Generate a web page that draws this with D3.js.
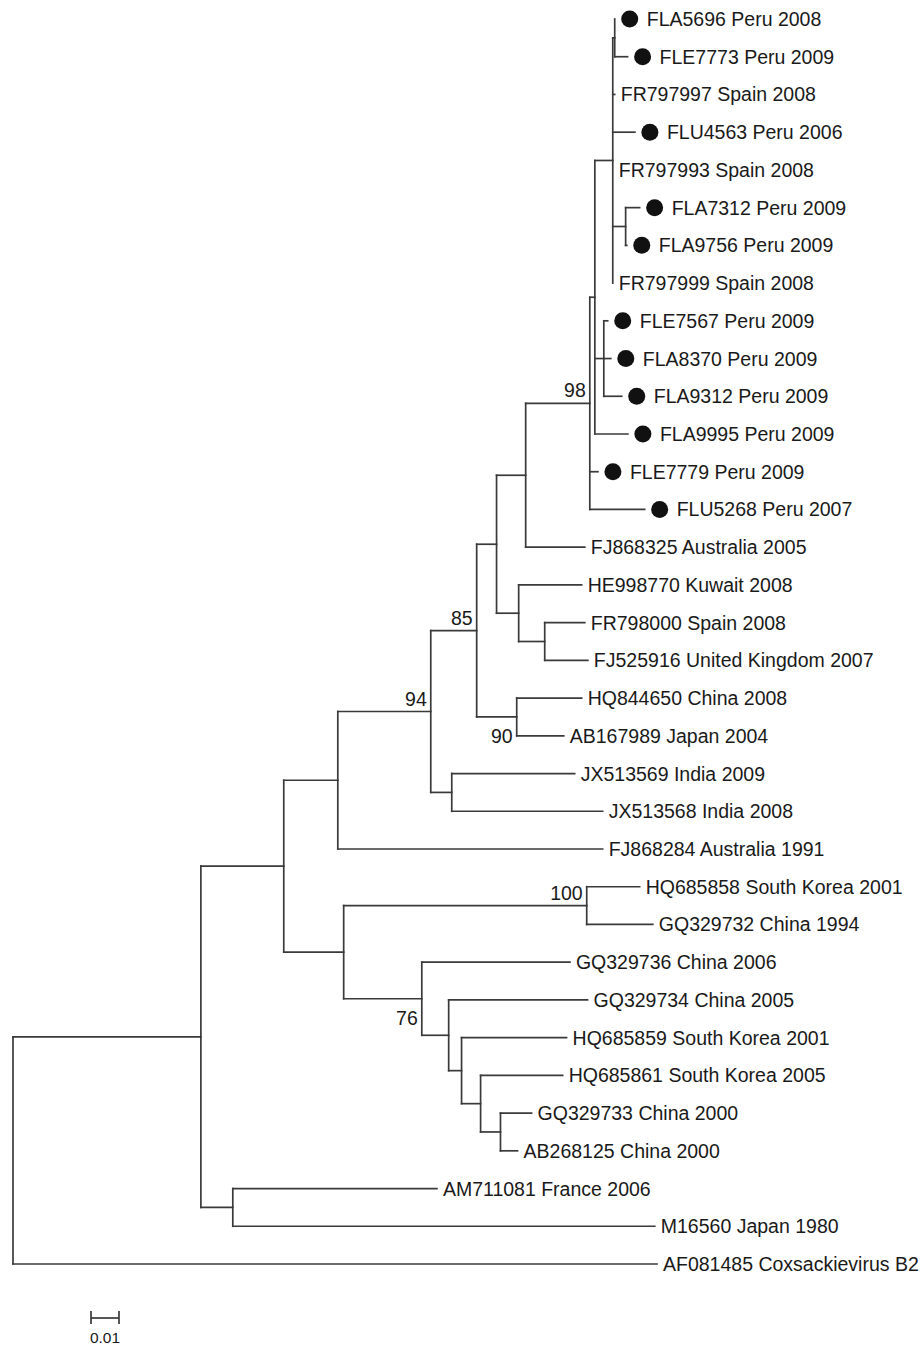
<!DOCTYPE html>
<html>
<head>
<meta charset="utf-8">
<script src="https://cdn.jsdelivr.net/npm/d3@7"></script>
<style>
  body { margin: 0; background: #fff; }
  svg { display: block; font-family: Arial, "Liberation Sans", Helvetica, sans-serif; }
</style>
</head>
<body>
<figure id="tree" style="margin:0"></figure>
<script>
// tree topology with branch lengths (substitutions/site) and bootstrap values
const newick = `
(
 (
  (
   (
    (
     (
      (
       (
        (
         (((FLA5696:0,FLE7773:0.0046):0.0007,FR797997:0.0007,FLU4563:0.0079,FR797993:0,
           (FLA7312:0.0050,FLA9756:0.0004):0.0046,FR797999:0):0.0064,
          (FLE7567:0.0014,FLA8370:0.0025,FLA9312:0.0064):0.0032,
          FLA9995:0.0118):0.0018,
         FLE7779:0.0029,FLU5268:0.0196)98:0.0229,
        FJ868325:0.0211):0.0104,
       (HE998770:0.0225,(FR798000:0.0143,FJ525916:0.0154):0.0093):0.0079):0.0071,
      (HQ844650:0.0232,AB167989:0.0168)90:0.0143)85:0.0164,
     (JX513569:0.0439,JX513568:0.0539):0.0075)94:0.0332,
    FJ868284:0.0946):0.0193,
   ((HQ685858:0.0189,GQ329732:0.0236)100:0.0868,
    (GQ329736:0.0529,(GQ329734:0.0496,(HQ685859:0.0375,(HQ685861:0.0293,
      (GQ329733:0.0111,AB268125:0.0061):0.0071):0.0068):0.0046):0.0096)76:0.0279):0.0214):0.0296,
  (AM711081:0.0729,M16560:0.1507):0.0114):0.0671,
 AF081485:0.2300);`;

// tip labels, top to bottom
const accessions = ["FLA5696", "FLE7773", "FR797997", "FLU4563", "FR797993", "FLA7312", "FLA9756",
  "FR797999", "FLE7567", "FLA8370", "FLA9312", "FLA9995", "FLE7779", "FLU5268", "FJ868325",
  "HE998770", "FR798000", "FJ525916", "HQ844650", "AB167989", "JX513569", "JX513568", "FJ868284",
  "HQ685858", "GQ329732", "GQ329736", "GQ329734", "HQ685859", "HQ685861", "GQ329733", "AB268125",
  "AM711081", "M16560", "AF081485"];
const origins = ["Peru", "Peru", "Spain", "Peru", "Spain", "Peru", "Peru",
  "Spain", "Peru", "Peru", "Peru", "Peru", "Peru", "Peru", "Australia",
  "Kuwait", "Spain", "United Kingdom", "China", "Japan", "India", "India", "Australia",
  "South Korea", "China", "China", "China", "South Korea", "South Korea", "China", "China",
  "France", "Japan", "Coxsackievirus B2"];
const years = ["2008", "2009", "2008", "2006", "2008", "2009", "2009",
  "2008", "2009", "2009", "2009", "2009", "2009", "2007", "2005",
  "2008", "2008", "2007", "2008", "2004", "2009", "2008", "1991",
  "2001", "1994", "2006", "2005", "2001", "2005", "2000", "2000",
  "2006", "1980", ""];
// isolates from this study (filled circles)
const studyIsolates = ["FLA5696", "FLE7773", "FLU4563", "FLA7312", "FLA9756", "FLE7567", "FLA8370",
  "FLA9312", "FLA9995", "FLE7779", "FLU5268"];
// bootstrap values written under the branch instead of above it
const supportBelow = ["90", "76"];
const scaleBarLength = 0.01;

const width = 922, height = 1348;

function parseNewick(s) {
  s = s.replace(/\s+/g, "");
  let i = 0;
  function node() {
    const n = { children: [], name: "", length: 0 };
    if (s[i] === "(") {
      i++;
      n.children.push(node());
      while (s[i] === ",") { i++; n.children.push(node()); }
      i++; // closing paren
    }
    while (i < s.length && !",():;".includes(s[i])) n.name += s[i++];
    if (s[i] === ":") {
      i++;
      let num = "";
      while (i < s.length && !",();".includes(s[i])) num += s[i++];
      n.length = +num;
    }
    return n;
  }
  return node();
}

const root = d3.hierarchy(parseNewick(newick), d => d.children.length ? d.children : null);
root.eachBefore(d => { d.dist = d.parent ? d.parent.dist + d.data.length : 0; });

const leaves = root.leaves();
const x = d3.scaleLinear().domain([0, 0.23]).range([13, 657]);
const y = d3.scaleLinear().domain([0, leaves.length - 1]).range([19, 1264]);

leaves.forEach((d, i) => { d.row = i; });
root.eachAfter(d => {
  if (d.children) d.row = (d.children[0].row + d.children[d.children.length - 1].row) / 2;
});

const svg = d3.select("figure#tree")
  .append("svg")
  .attr("width", width)
  .attr("height", height);

const lineColor = "#3a3a3a";
const g = svg.append("g")
  .attr("stroke", lineColor)
  .attr("stroke-width", 1.7)
  .attr("stroke-linecap", "square")
  .attr("fill", "none");

// horizontal branches
g.selectAll("line.branch")
  .data(root.descendants().filter(d => d.parent && d.data.length > 0))
  .enter()
  .append("line")
  .attr("class", "branch")
  .attr("x1", d => x(d.parent.dist))
  .attr("x2", d => x(d.dist))
  .attr("y1", d => y(d.row))
  .attr("y2", d => y(d.row));

// vertical connectors
g.selectAll("line.connector")
  .data(root.descendants().filter(d => d.children))
  .enter()
  .append("line")
  .attr("class", "connector")
  .attr("x1", d => x(d.dist))
  .attr("x2", d => x(d.dist))
  .attr("y1", d => y(d.children[0].row))
  .attr("y2", d => y(d.children[d.children.length - 1].row));

const fontSize = 19.5;

// tip dots and labels
const tips = svg.append("g")
  .selectAll("g")
  .data(leaves)
  .enter()
  .append("g")
  .attr("transform", d => "translate(" + x(d.dist) + "," + y(d.row) + ")");

tips.filter(d => studyIsolates.includes(d.data.name))
  .append("circle")
  .attr("cx", 15)
  .attr("r", 8.5)
  .attr("fill", "#111");

tips.append("text")
  .attr("x", d => studyIsolates.includes(d.data.name) ? 32 : 6)
  .attr("dy", "0.36em")
  .attr("font-size", fontSize)
  .attr("fill", "#1a1a1a")
  .text(d => {
    const k = accessions.indexOf(d.data.name);
    return [accessions[k], origins[k], years[k]].filter(t => t).join(" ");
  });

// bootstrap support
svg.append("g")
  .selectAll("text")
  .data(root.descendants().filter(d => d.children && d.data.name))
  .enter()
  .append("text")
  .attr("x", d => x(d.dist) - 4)
  .attr("y", d => y(d.row) + (supportBelow.includes(d.data.name) ? 26 : -6))
  .attr("text-anchor", "end")
  .attr("font-size", fontSize)
  .attr("fill", "#1a1a1a")
  .text(d => d.data.name);

// scale bar
const barX = 91, barY = 1318;
const barW = x(scaleBarLength) - x(0);
const bar = svg.append("g")
  .attr("stroke", lineColor)
  .attr("stroke-width", 1.7);
bar.append("line").attr("x1", barX).attr("x2", barX + barW).attr("y1", barY).attr("y2", barY);
bar.append("line").attr("x1", barX).attr("x2", barX).attr("y1", barY - 7).attr("y2", barY + 6);
bar.append("line").attr("x1", barX + barW).attr("x2", barX + barW).attr("y1", barY - 7).attr("y2", barY + 6);
svg.append("text")
  .attr("x", barX + barW / 2)
  .attr("y", barY + 25)
  .attr("text-anchor", "middle")
  .attr("font-size", 15.5)
  .attr("fill", "#1a1a1a")
  .text(String(scaleBarLength));
</script>
</body>
</html>
